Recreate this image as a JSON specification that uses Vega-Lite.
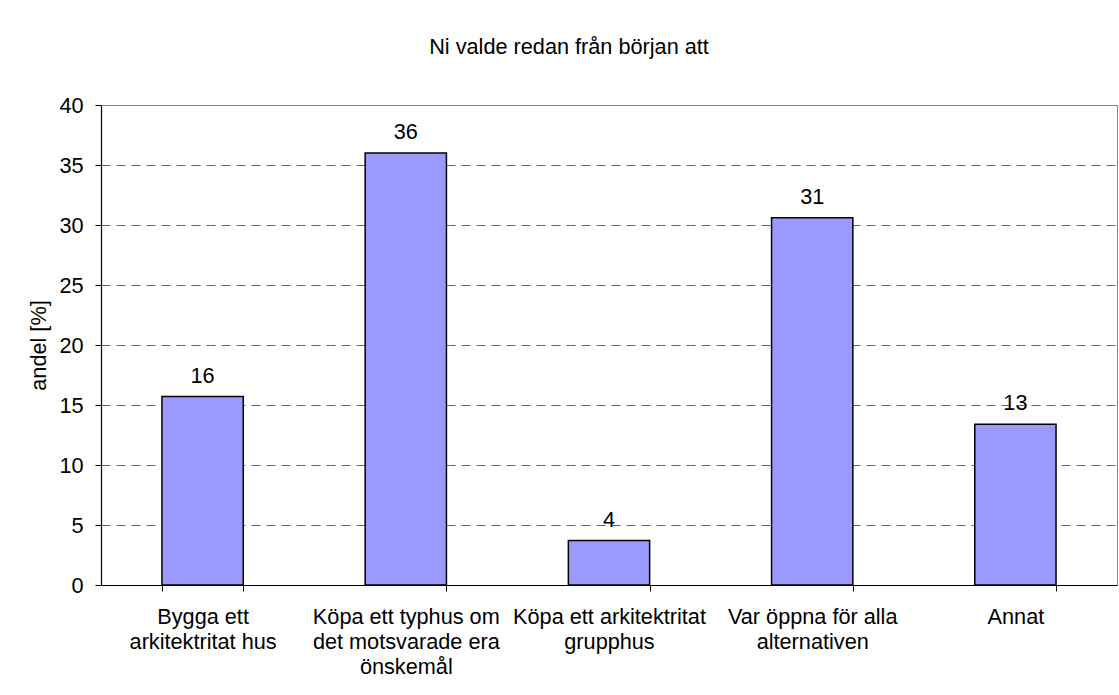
{
  "$schema": "https://vega.github.io/schema/vega-lite/v6.json",
  "width": 1016,
  "height": 480,
  "autosize": {"type": "none"},
  "padding": {"left": 101, "top": 105, "right": 2, "bottom": 110},
  "background": "white",
  "title": {
    "text": "Ni valde redan från början att",
    "fontSize": 21.7,
    "fontWeight": "normal",
    "font": "Liberation Sans",
    "color": "black",
    "baseline": "alphabetic",
    "offset": 19,
    "dx": -40
  },
  "data": {
    "values": [
      {"label": "Bygga ett|arkitektritat hus", "andel": 15.7},
      {"label": "Köpa ett typhus om|det motsvarade era|önskemål", "andel": 36.0},
      {"label": "Köpa ett arkitektritat|grupphus", "andel": 3.7},
      {"label": "Var öppna för alla|alternativen", "andel": 30.6},
      {"label": "Annat", "andel": 13.4}
    ]
  },
  "encoding": {
    "x": {
      "field": "label",
      "type": "nominal",
      "sort": null,
      "scale": {"paddingInner": 0.6, "paddingOuter": 0.3},
      "axis": {
        "title": null,
        "labelAngle": 0,
        "labelExpr": "split(datum.label, '|')",
        "labelFontSize": 21.7,
        "labelLineHeight": 25,
        "labelColor": "black",
        "labelPadding": 15,
        "labelLimit": 0,
        "labelOverlap": false,
        "labelBound": false,
        "tickBand": "extent",
        "tickSize": 6,
        "tickColor": "black",
        "domainColor": "black",
        "domainWidth": 1.2,
        "grid": false
      }
    },
    "y": {
      "field": "andel",
      "type": "quantitative",
      "scale": {"domain": [0, 40], "nice": false},
      "axis": {
        "title": "andel [%]",
        "titleFontSize": 21.7,
        "titleFontWeight": "normal",
        "titleColor": "black",
        "titlePadding": 8,
        "values": [0, 5, 10, 15, 20, 25, 30, 35, 40],
        "labelFontSize": 21.7,
        "labelColor": "black",
        "labelPadding": 12,
        "tickSize": 6,
        "tickColor": "black",
        "domainColor": "black",
        "domainWidth": 1.2,
        "grid": true,
        "gridColor": "#666666",
        "gridDash": [9, 6],
        "gridOpacity": {"condition": {"test": "datum.value == 0 || datum.value == 40", "value": 0}, "value": 1}
      }
    }
  },
  "layer": [
    {
      "mark": {"type": "bar", "fill": "#9999FF", "stroke": "black", "strokeWidth": 1.5}
    },
    {
      "mark": {"type": "text", "baseline": "alphabetic", "dy": -14, "fontSize": 21.7, "color": "black"},
      "encoding": {
        "text": {"field": "andel", "type": "quantitative", "format": ".0f"}
      }
    }
  ],
  "config": {
    "font": "Liberation Sans",
    "view": {"stroke": "#888888", "strokeWidth": 1}
  }
}
